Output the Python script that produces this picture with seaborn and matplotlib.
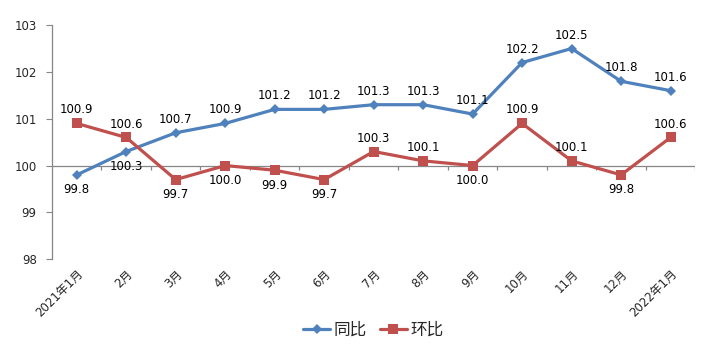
import matplotlib
matplotlib.use("Agg")
import matplotlib.pyplot as plt
import seaborn as sns
import pandas as pd
import numpy as np
from matplotlib.lines import Line2D

months = ["2021年1月", "2月", "3月", "4月", "5月", "6月", "7月", "8月", "9月",
          "10月", "11月", "12月", "2022年1月"]
yoy = [99.8, 100.3, 100.7, 100.9, 101.2, 101.2, 101.3, 101.3, 101.1, 102.2, 102.5, 101.8, 101.6]
mom = [100.9, 100.6, 99.7, 100.0, 99.9, 99.7, 100.3, 100.1, 100.0, 100.9, 100.1, 99.8, 100.6]
series_names = ["同比", "环比"]

# label placement (style): +1 above, -1 below
yoy_pos = [-1, -1, 1, 1, 1, 1, 1, 1, 1, 1, 1, 1, 1]
mom_pos = [1, 1, -1, -1, -1, -1, 1, 1, -1, 1, 1, -1, 1]

sns.set_style("white")
plt.rcParams['font.family'] = ['DejaVu Sans', 'Noto Sans CJK SC']

df = pd.DataFrame({"month": months * 2,
                   "value": yoy + mom,
                   "series": [series_names[0]] * len(months) + [series_names[1]] * len(months)})
df["x"] = list(range(len(months))) * 2

fig = plt.figure(figsize=(7.18, 3.64), dpi=100)
ax = fig.add_axes([0.0724, 0.288, 0.896, 0.643])

colors = {"同比": "#4F81BD", "环比": "#C0504D"}
sns.lineplot(data=df, x="x", y="value", hue="series", palette=colors, style="series",
             markers={"同比": "D", "环比": "s"}, dashes=False, linewidth=2.3,
             markersize=6, markeredgewidth=0, ax=ax, legend=False)
for ln in ax.get_lines():
    if ln.get_marker() == "s":
        ln.set_markersize(7.5)
    elif ln.get_marker() == "D":
        ln.set_markersize(5.5)

for vals, pos in ((yoy, yoy_pos), (mom, mom_pos)):
    for i, (v, p) in enumerate(zip(vals, pos)):
        ax.annotate(f"{v:.1f}", (i, v), xytext=(0, 5 if p > 0 else -6), textcoords="offset points",
                    ha="center", va="bottom" if p > 0 else "top", fontsize=8.5, color="black")

ax.set_xlim(-0.5, len(months) - 0.5)
ax.set_ylim(98, 103)
ax.set_yticks([98, 99, 100, 101, 102, 103])
ax.set_xticks(range(len(months)))
ax.set_xticklabels(months, rotation=45, ha="right", rotation_mode="anchor", fontsize=8.5)
ax.tick_params(axis="x", length=0, pad=6)
ax.tick_params(axis="y", left=True, length=4, color="#868686", labelsize=8.5, pad=7)
ax.set_xlabel("")
ax.set_ylabel("")
for s in ["top", "right", "bottom"]:
    ax.spines[s].set_visible(False)
ax.spines["left"].set_color("#868686")
ax.spines["left"].set_linewidth(0.9)

# category axis crossing at 100 with boundary ticks
ax.axhline(100, color="#868686", linewidth=0.9, zorder=1)
bounds = np.arange(-0.5, len(months), 1.0)
ax.vlines(bounds[1:], 100 - 0.09, 100, color="#868686", linewidth=0.9, zorder=1)

handles = [Line2D([0], [0], color=colors["同比"], marker="D", markersize=5.5, lw=2.3, markeredgewidth=0),
           Line2D([0], [0], color=colors["环比"], marker="s", markersize=7.5, lw=2.3, markeredgewidth=0)]
fig.legend(handles, series_names, loc="center", bbox_to_anchor=(0.52, 0.095), ncol=2,
           frameon=False, fontsize=12, handlelength=1.6, columnspacing=0.8, handletextpad=0.2)

fig.savefig("out.png", dpi=100)
